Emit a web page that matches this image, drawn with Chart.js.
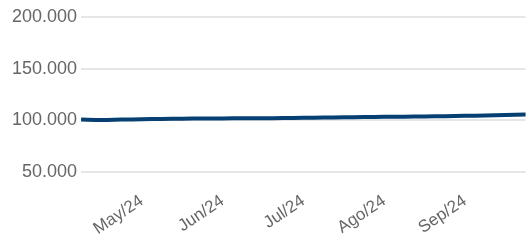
<!DOCTYPE html>
<html>
<head>
<meta charset="utf-8">
<script src="https://cdn.jsdelivr.net/npm/chart.js@4.4.1/dist/chart.umd.min.js"></script>
<style>
  html, body { margin: 0; padding: 0; background: #fff; overflow: hidden; }
</style>
</head>
<body>
<canvas id="chart" width="548" height="240"></canvas>
<script>
// one point per quarter month, only the month starts carry a tick label
const categories = [
  '', '', '', 'May/24', '', '', '', 'Jun/24', '', '', '', 'Jul/24',
  '', '', '', 'Ago/24', '', '', '', 'Sep/24', '', '', ''
];
const values = [
  100700, 100300, 100700, 101000, 101300, 101500, 101700, 101800, 102000, 102000, 102100, 102400,
  102600, 102900, 103100, 103300, 103500, 103700, 104000, 104300, 104700, 105100, 105500
];
const yTicks = [50000, 100000, 150000, 200000];

const ctx = document.getElementById('chart').getContext('2d');

Chart.defaults.font.family = "'Liberation Sans', Arial, sans-serif";
Chart.defaults.color = '#666';

new Chart(ctx, {
  type: 'line',
  data: {
    labels: categories,
    datasets: [
      {
        label: 'Valor',
        data: values,
        fill: false,
        borderColor: '#063f72',
        borderWidth: 4,
        pointRadius: 0,
        tension: 0.3,
      },
    ],
  },
  options: {
    responsive: false,
    animation: false,
    layout: { padding: { left: 8, top: 17, bottom: -10 } },
    plugins: {
      legend: { display: false },
      tooltip: { enabled: false },
    },
    scales: {
      x: {
        grid: { display: false },
        border: { display: false },
        ticks: {
          autoSkip: false,
          minRotation: 34,
          maxRotation: 34,
          padding: 11,
          font: { size: 17 },
        },
      },
      y: {
        min: yTicks[0],
        max: yTicks[yTicks.length - 1],
        afterBuildTicks: (axis) => {
          axis.ticks = yTicks.map((v) => ({ value: v }));
        },
        grid: { color: '#e6e6e6', lineWidth: 2, drawTicks: false },
        border: { display: false },
        ticks: {
          padding: 4,
          font: { size: 18 },
          callback: (v) => v.toLocaleString('de-DE'),
        },
      },
    },
  },
});
</script>
</body>
</html>
